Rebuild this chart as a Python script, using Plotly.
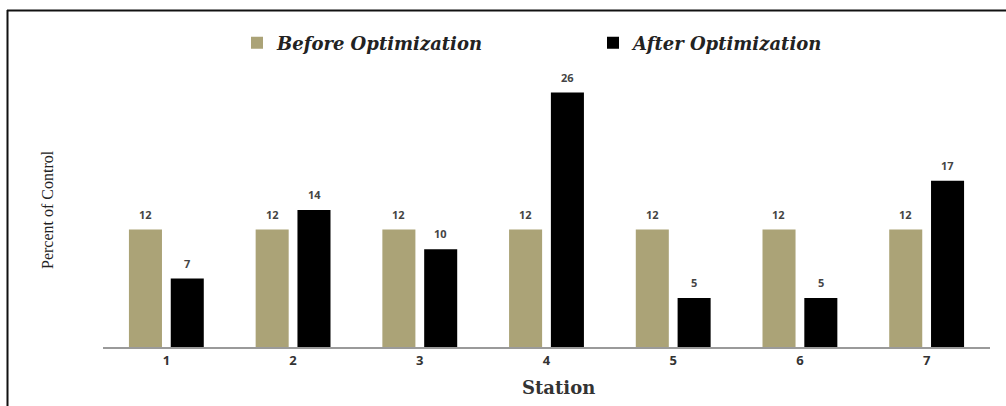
import plotly.graph_objects as go

stations = ["1", "2", "3", "4", "5", "6", "7"]
before_opt = [12, 12, 12, 12, 12, 12, 12]
after_opt = [7, 14, 10, 26, 5, 5, 17]

KHAKI = "#aba377"
SERIF = "DejaVu Serif, Georgia, serif"
TIMES = "Liberation Serif, Times New Roman, serif"
SANS = "Open Sans, Arial, sans-serif"

fig = go.Figure()
fig.add_trace(go.Bar(
    x=stations, y=before_opt, name="<b><i>Before Optimization</i></b>",
    marker=dict(color=KHAKI, line=dict(width=0)),
))
fig.add_trace(go.Bar(
    x=stations, y=after_opt, name="<b><i>After Optimization</i></b>",
    marker=dict(color="#000000", line=dict(width=0)),
))

L, R, T, B = 103, 16, 73, 59
W, H = 1006, 406
pw, ph = W - L - R, H - T - B


def px_x(p):
    return (p - L) / pw


def px_y(p):
    return (H - B - p) / ph


# value labels above each bar, shifted onto the left/right bar of each pair
value_labels = []
for series, shift in ((before_opt, -21), (after_opt, 21)):
    for i, v in enumerate(series):
        value_labels.append(dict(
            x=i, y=v, xref="x", yref="y", text=f"<b>{v}</b>",
            showarrow=False, xshift=shift, yshift=6, yanchor="bottom",
            font=dict(family=SANS, size=11, color="#444444"),
        ))

fig.update_layout(
    width=W, height=H,
    margin=dict(l=L, r=R, t=T, b=B),
    paper_bgcolor="white", plot_bgcolor="white",
    barmode="group", bargap=0.34, bargroupgap=0.21,
    showlegend=True,
    legend=dict(
        orientation="h", x=px_x(237), xanchor="left", y=px_y(43), yanchor="middle",
        font=dict(family=SERIF, size=18, color="#222222"),
        entrywidth=311, entrywidthmode="pixels",
        bgcolor="rgba(0,0,0,0)",
    ),
    xaxis=dict(
        type="category", range=[-0.5, len(stations) - 0.5],
        showgrid=False, zeroline=False, showline=True, linecolor="#9a9a9a", linewidth=2,
        ticks="", tickfont=dict(family=SANS, size=13, color="#333333", weight="bold"),
    ),
    yaxis=dict(
        range=[0, 28], showgrid=False, zeroline=False, showline=False,
        showticklabels=False, ticks="",
    ),
    shapes=[
        dict(type="line", xref="paper", yref="paper",
             x0=px_x(7), x1=px_x(W), y0=px_y(10.5), y1=px_y(10.5),
             line=dict(color="#111111", width=2)),
        dict(type="line", xref="paper", yref="paper",
             x0=px_x(7.5), x1=px_x(7.5), y0=px_y(10), y1=px_y(H),
             line=dict(color="#111111", width=2)),
    ],
    annotations=value_labels + [
        dict(text="Percent of Control", xref="paper", yref="paper",
             x=px_x(47), y=px_y(210), xanchor="center", yanchor="middle",
             textangle=-90, showarrow=False,
             font=dict(family=TIMES, size=16, color="#222222")),
        dict(text="<b>Station</b>", xref="paper", yref="paper",
             x=px_x(558), y=px_y(387), xanchor="center", yanchor="middle",
             showarrow=False,
             font=dict(family=SERIF, size=18, color="#333333")),
    ],
)

fig.write_html("out.html")
